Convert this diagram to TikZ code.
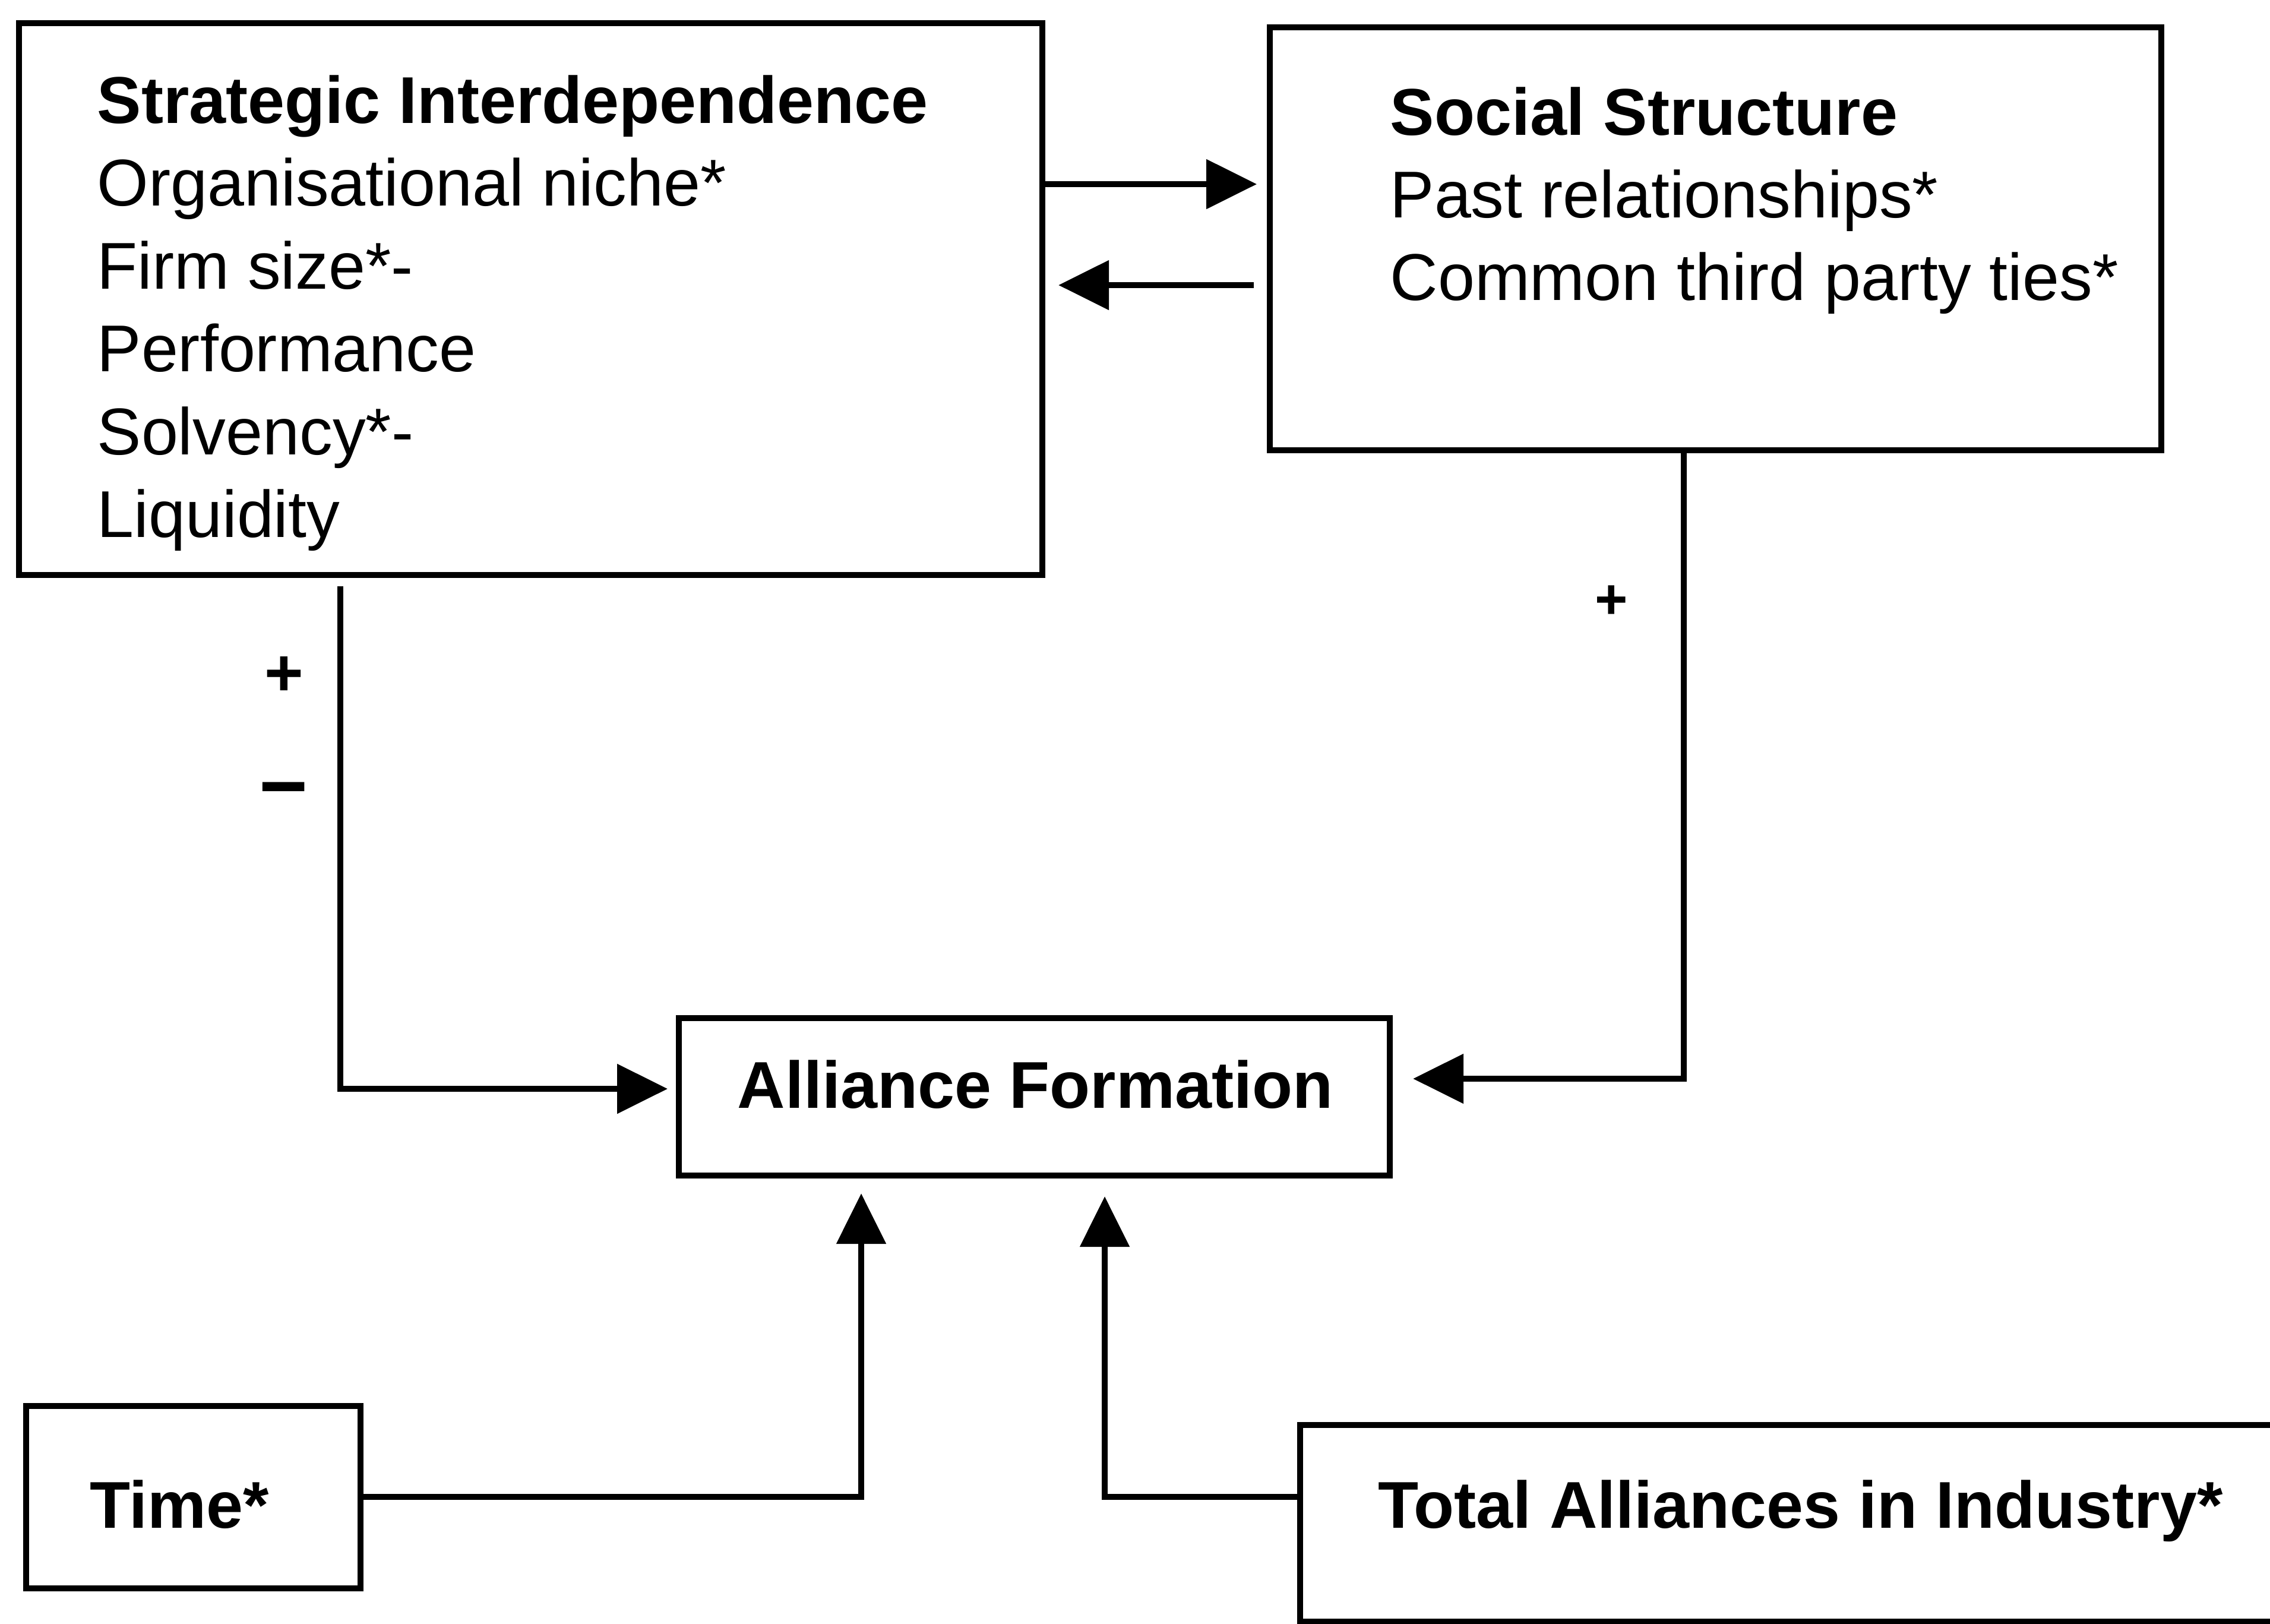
\documentclass[tikz,border=0pt]{standalone}
\usepackage{fontspec}
\setmainfont{Liberation Sans}
\usetikzlibrary{arrows.meta}
\begin{document}
\begin{tikzpicture}[x=1cm,y=1cm,
  box/.style={draw, line width=2.9pt, inner sep=0pt, anchor=north west},
  txt/.style={anchor=base west, inner sep=0pt,
    font=\fontsize{31.7}{39.6}\selectfont},
  link/.style={line width=2.6pt},
  arr/.style={link, -{Triangle[length=0.85cm,width=0.82cm]}},
  sign/.style={inner sep=0pt, font=\fontsize{32}{32}\selectfont\bfseries}]
\useasboundingbox[fill=white] (0,0) rectangle (38.22,-27.33);
\clip (0,0) rectangle (38.22,-27.33);

% boxes
\node[box, minimum width=17.23cm, minimum height=9.29cm] (si) at (0.27,-0.34) {};
\node[box, minimum width=15.01cm, minimum height=7.12cm] (ss) at (21.33,-0.41) {};
\node[box, minimum width=11.97cm, minimum height=2.65cm] (af) at (11.38,-17.09) {};
\node[box, minimum width=5.63cm, minimum height=3.07cm] (tm) at (0.39,-23.62) {};
\node[box, minimum width=17.00cm, minimum height=3.31cm] (ta) at (21.84,-23.94) {};

% box texts, one line each
\node[txt] (si1) at (1.63,-2.07) {\textbf{Strategic Interdependence}};
\node[txt] (si2) at (1.63,-3.465) {Organisational niche*};
\node[txt] (si3) at (1.63,-4.86) {Firm size*-};
\node[txt] (si4) at (1.63,-6.255) {Performance};
\node[txt] (si5) at (1.63,-7.65) {Solvency*-};
\node[txt] (si6) at (1.63,-9.045) {Liquidity};
\node[txt] (ss1) at (23.40,-2.27) {\textbf{Social Structure}};
\node[txt] (ss2) at (23.40,-3.66) {Past relationships*};
\node[txt] (ss3) at (23.40,-5.05) {Common third party ties*};
\node[txt] (aft) at (12.41,-18.65) {\textbf{Alliance Formation}};
\node[txt] (tmt) at (1.51,-25.72) {\textbf{Time*}};
\node[txt] (tat) at (23.20,-25.72) {\textbf{Total Alliances in Industry*}};

% routing points
\coordinate (ya) at (0,-3.10);
\coordinate (yb) at (0,-4.80);
\coordinate (l1) at (5.73,-9.87);
\coordinate (lb) at (5.73,-18.33);
\coordinate (rb) at (28.35,-18.16);
\coordinate (tb) at (14.50,-25.20);
\coordinate (qb) at (18.60,-25.20);

% connectors
\draw[arr] (si.east |- ya) -- ([xshift=-0.17cm]ss.west |- ya);
\draw[arr] ([xshift=-0.22cm]ss.west |- yb) -- ([xshift=0.22cm]si.east |- yb);
\draw[arr] (l1) -- (lb) -- ([xshift=-0.14cm]af.west |- lb);
\draw[arr] (ss.south -| rb) -- (rb) -- ([xshift=0.34cm]af.east |- rb);
\draw[arr] (tm.east |- tb) -- (tb) -- ([yshift=-0.25cm]af.south -| tb);
\draw[arr] (ta.west |- qb) -- (qb) -- ([yshift=-0.30cm]af.south -| qb);

% signs
\node[sign] (p1) at (4.78,-11.38) {+};
\node[sign, font=\fontsize{40}{40}\selectfont\bfseries] (m1) at (4.78,-13.44) {−};
\node[sign, font=\fontsize{27}{27}\selectfont\bfseries] (p2) at (27.13,-10.14) {+};
\end{tikzpicture}
\end{document}
